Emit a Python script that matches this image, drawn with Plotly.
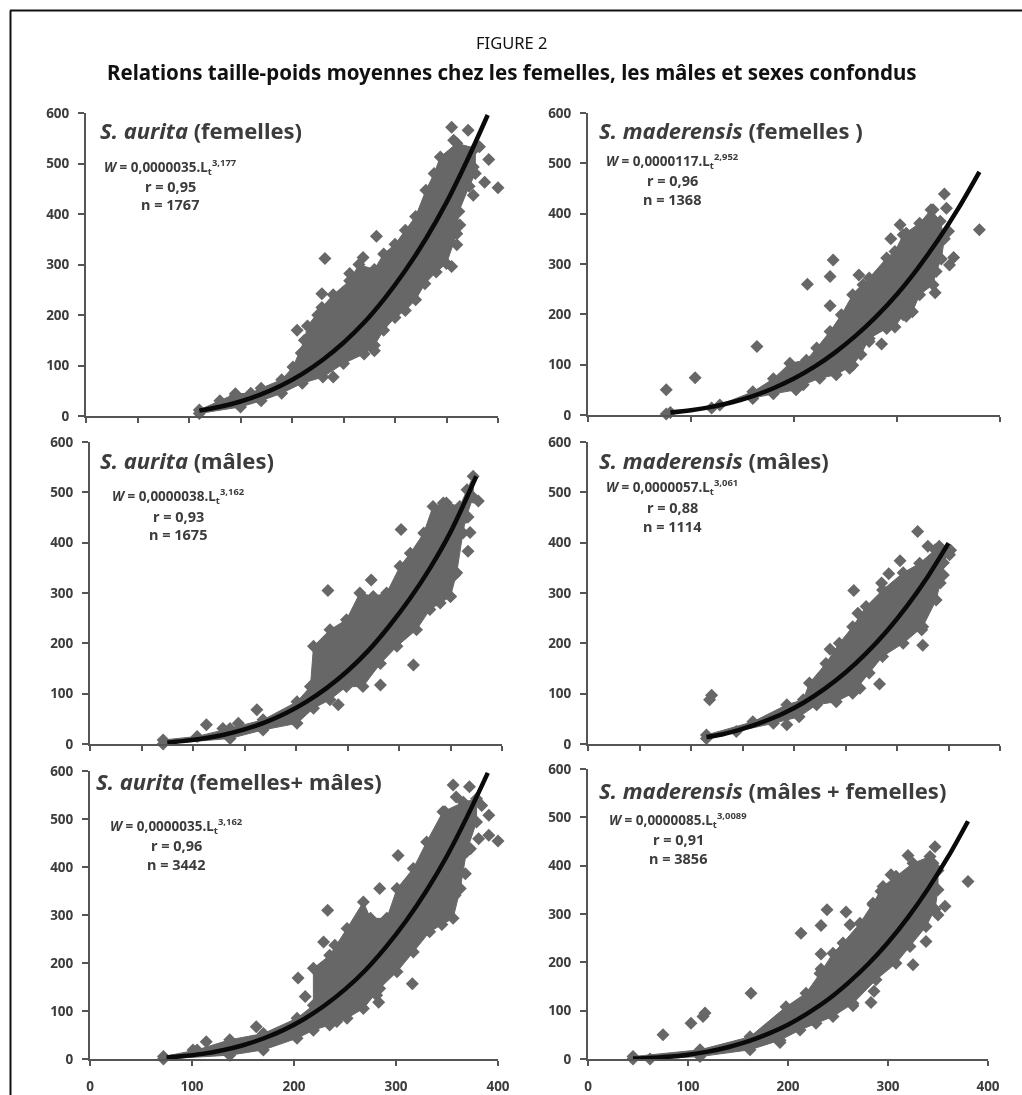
import plotly.graph_objects as go

W_PX, H_PX = 1022, 1095

# ---------- S. aurita (femelles) ----------
af_curve_x = [110, 130, 150, 170, 190, 210, 230, 250, 270, 290, 310, 330, 350, 370, 390]
af_curve_y = [10.7, 18.2, 28.7, 42.7, 60.7, 83.4, 111.5, 145, 185, 233, 288, 351, 423, 506, 596]
af_upper_x = [110, 130, 145, 160, 170, 190, 201, 212, 215, 229, 240, 256, 265, 280, 289, 300, 310, 320, 330, 338, 344, 360, 378]
af_upper_y = [12, 30, 44, 45, 55, 72, 97, 150, 178, 215, 240, 268, 300, 290, 321, 340, 368, 395, 447, 480, 513, 540, 530]
af_lower_x = [378, 372, 362, 360, 350, 340, 329, 320, 310, 300, 289, 280, 270, 250, 230, 210, 190, 170, 150, 110]
af_lower_y = [480, 455, 405, 361, 302, 285, 262, 230, 209, 195, 170, 140, 123, 104, 77, 65, 45, 30, 18, 5]
af_out_x = [355, 371, 391, 400, 376, 387, 282, 232, 269, 229, 205, 209, 280, 240, 355, 360, 363, 145, 382, 357, 376, 240, 256, 225]
af_out_y = [572, 566, 508, 452, 437, 463, 356, 312, 314, 242, 170, 125, 129, 77, 296, 339, 378, 41, 533, 546, 493, 225, 282, 200]

# ---------- S. maderensis (femelles) ----------
mf_curve_x = [80, 100, 120, 140, 160, 180, 200, 220, 240, 260, 280, 300, 320, 340, 360, 380]
mf_curve_y = [4.9, 9.4, 16.1, 25.3, 37.6, 53.2, 72.5, 96, 124.5, 157.6, 196, 240, 291, 348, 412, 483]
mf_upper_x = [80, 120, 160, 180, 196, 212, 222, 235, 246, 257, 265, 273, 290, 298, 306, 322, 333, 342]
mf_upper_y = [5, 14, 46, 72, 103, 109, 133, 166, 199, 239, 245, 272, 312, 325, 358, 381, 408, 385]
mf_lower_x = [346, 343, 338, 335, 322, 315, 306, 298, 290, 273, 265, 257, 241, 225, 209, 202, 180, 160, 128, 76]
mf_lower_y = [350, 310, 285, 259, 239, 205, 199, 175, 172, 152, 120, 99, 80, 73, 60, 50, 42, 33, 20, 2]
mf_out_x = [76, 104, 164, 213, 235, 238, 235, 263, 267, 285, 273, 294, 303, 309, 346, 348, 335, 337, 351, 355, 380, 350, 309, 254]
mf_out_y = [50, 74, 136, 260, 275, 308, 217, 278, 259, 141, 146, 350, 378, 361, 439, 411, 408, 243, 298, 313, 368, 365, 196, 93]

# ---------- S. aurita (mâles) ----------
am_curve_x = [75, 90, 110, 130, 150, 170, 190, 210, 230, 250, 270, 290, 310, 330, 350, 375]
am_curve_y = [3.2, 5.7, 10.8, 18.4, 28.9, 43, 61, 83.7, 111.6, 145, 185, 233, 287, 349, 421, 532]
am_upper_x = [71, 104, 136, 168, 201, 214, 217, 233, 249, 262, 275, 288, 301, 311, 324, 333, 346, 359, 372]
am_upper_y = [8, 15, 31, 48, 84, 114, 194, 227, 247, 300, 293, 300, 353, 379, 419, 472, 479, 472, 532]
am_lower_x = [372, 365, 362, 356, 350, 340, 330, 317, 298, 282, 265, 249, 233, 217, 201, 168, 136, 71]
am_lower_y = [490, 450, 419, 340, 293, 280, 267, 227, 194, 160, 114, 114, 88, 71, 41, 28, 11, 0]
am_out_x = [231, 273, 302, 314, 282, 241, 162, 113, 129, 144, 377, 367, 369, 367, 354, 350, 366, 343]
am_out_y = [305, 326, 426, 157, 117, 78, 68, 38, 31, 41, 483, 451, 420, 383, 336, 293, 505, 479]

# ---------- S. maderensis (mâles) ----------
mm_curve_x = [115, 130, 150, 170, 190, 210, 230, 250, 270, 290, 310, 330, 350]
mm_curve_y = [14, 19, 30, 44, 61, 83, 110, 142, 180, 224, 275, 333, 399]
mm_upper_x = [115, 160, 193, 209, 215, 231, 244, 257, 270, 286, 306, 322, 341, 352]
mm_upper_y = [18, 44, 78, 88, 121, 160, 200, 233, 273, 306, 340, 359, 393, 385]
mm_lower_x = [345, 342, 338, 325, 306, 286, 273, 257, 241, 222, 205, 180, 144, 115]
mm_lower_y = [360, 320, 286, 233, 200, 174, 141, 101, 84, 78, 54, 41, 25, 11]
mm_out_x = [120, 118, 193, 235, 258, 283, 264, 292, 303, 285, 320, 330, 337, 351, 345, 325, 324, 262]
mm_out_y = [97, 88, 38, 188, 305, 119, 111, 338, 364, 320, 422, 393, 386, 376, 336, 196, 227, 260]

# ---------- S. aurita (femelles+ mâles) ----------
ab_curve_x = [75, 90, 110, 130, 150, 170, 190, 210, 230, 250, 270, 290, 310, 330, 350, 370, 390]
ab_curve_y = [3.2, 5.7, 10.7, 18.2, 28.7, 42.7, 60.7, 83.4, 111.5, 145, 185, 233, 288, 351, 423, 506, 596]
ab_upper_x = [72, 105, 137, 170, 203, 219, 219, 235, 252, 268, 275, 291, 301, 317, 330, 346, 366, 379]
ab_upper_y = [5, 19, 40, 53, 85, 112, 189, 216, 272, 327, 293, 293, 355, 397, 452, 515, 535, 542]
ab_lower_x = [379, 369, 363, 356, 345, 333, 317, 301, 284, 268, 252, 235, 219, 203, 170, 137, 72]
ab_lower_y = [494, 431, 355, 293, 280, 265, 223, 182, 147, 105, 85, 71, 60, 43, 19, 8, 0]
ab_out_x = [356, 372, 359, 391, 400, 391, 381, 373, 368, 358, 302, 284, 233, 229, 240, 204, 211, 316, 281, 283, 242, 163, 114, 101, 348, 384]
ab_out_y = [571, 567, 546, 508, 454, 466, 459, 438, 386, 341, 424, 355, 310, 244, 237, 169, 130, 157, 133, 118, 78, 67, 36, 19, 515, 528]

# ---------- S. maderensis (mâles + femelles) ----------
mb_curve_x = [45, 60, 80, 100, 120, 140, 160, 180, 200, 220, 240, 260, 280, 300, 320, 340, 360, 380]
mb_curve_y = [0.8, 1.9, 4.5, 8.9, 15.3, 24.4, 36.4, 51.9, 71, 95, 123, 157, 196, 241, 293, 352, 418, 492]
mb_upper_x = [45, 112, 162, 198, 218, 232, 245, 255, 272, 285, 295, 308, 325, 342, 350]
mb_upper_y = [5, 19, 46, 108, 136, 177, 219, 240, 281, 322, 357, 378, 405, 419, 390]
mb_lower_x = [350, 347, 338, 322, 308, 288, 265, 245, 228, 212, 192, 162, 112, 62]
mb_lower_y = [350, 310, 274, 233, 198, 164, 115, 88, 74, 60, 39, 19, 5, 0]
mb_out_x = [45, 75, 103, 117, 115, 163, 213, 233, 239, 258, 262, 233, 233, 265, 283, 286, 325, 338, 350, 357, 380, 320, 303, 347, 345, 285, 293, 192]
mb_out_y = [0, 50, 74, 95, 88, 136, 260, 276, 309, 304, 278, 217, 186, 110, 117, 140, 195, 243, 298, 316, 367, 421, 381, 439, 405, 319, 347, 34]

# ---------- axis ticks ----------
x_ticks_50 = [0, 50, 100, 150, 200, 250, 300, 350, 400]
x_ticks_100 = [0, 100, 200, 300, 400]
y_ticks = [0, 100, 200, 300, 400, 500, 600]

# ---------- panel texts ----------
panel_sp = ["S. aurita", "S. maderensis", "S. aurita", "S. maderensis", "S. aurita", "S. maderensis"]
panel_sex = [" (femelles)", " (femelles )", " (mâles)", " (mâles)", " (femelles+ mâles)", " (mâles + femelles)"]
panel_coef = ["0,0000035", "0,0000117", "0,0000038", "0,0000057", "0,0000035", "0,0000085"]
panel_exp = ["3,177", "2,952", "3,162", "3,061", "3,162", "3,0089"]
panel_r = ["r = 0,95", "r = 0,96", "r = 0,93", "r = 0,88", "r = 0,96", "r = 0,91"]
panel_n = ["n = 1767", "n = 1368", "n = 1675", "n = 1114", "n = 3442", "n = 3856"]

# pixel layout: x at 0, x at 400, y at 600, y at 0
boxes = [(86, 498, 113, 416), (588, 1000, 113, 415),
         (90, 502, 442, 744), (588, 1000, 442, 744),
         (90, 498, 771, 1059), (588, 988, 769, 1059)]
title_pos = [(98, 130), (597, 130), (98, 460), (597, 460), (94, 781), (597, 790)]
text_pos = [(170, 167, 186, 204), (672, 161, 180, 199), (178, 496, 516, 534),
            (672, 487, 507, 526), (176, 826, 845, 864), (678, 820, 839, 858)]
panel_ticks = [x_ticks_50, x_ticks_100, x_ticks_50, x_ticks_50, x_ticks_100, x_ticks_100]

data = [
    (af_curve_x, af_curve_y, af_upper_x, af_upper_y, af_lower_x, af_lower_y, af_out_x, af_out_y),
    (mf_curve_x, mf_curve_y, mf_upper_x, mf_upper_y, mf_lower_x, mf_lower_y, mf_out_x, mf_out_y),
    (am_curve_x, am_curve_y, am_upper_x, am_upper_y, am_lower_x, am_lower_y, am_out_x, am_out_y),
    (mm_curve_x, mm_curve_y, mm_upper_x, mm_upper_y, mm_lower_x, mm_lower_y, mm_out_x, mm_out_y),
    (ab_curve_x, ab_curve_y, ab_upper_x, ab_upper_y, ab_lower_x, ab_lower_y, ab_out_x, ab_out_y),
    (mb_curve_x, mb_curve_y, mb_upper_x, mb_upper_y, mb_lower_x, mb_lower_y, mb_out_x, mb_out_y),
]

FONT = "Noto Sans, Open Sans, sans-serif"
GREY = "#676767"
TXT = "#3c3c3c"


def px(x):
    return x / W_PX


def py(y):
    return 1 - y / H_PX


fig = go.Figure()
annotations = []
for i, (box, d) in enumerate(zip(boxes, data)):
    k = "" if i == 0 else str(i + 1)
    cx, cy, ux, uy, lx, ly, ox, oy = d
    xa, ya = f"x{k}", f"y{k}"
    marker = dict(symbol="diamond", size=10, color=GREY, line=dict(width=0))
    fig.add_trace(go.Scatter(x=ux + lx, y=uy + ly, mode="lines+markers", fill="toself",
                             fillcolor=GREY, line=dict(color=GREY, width=1), marker=marker,
                             xaxis=xa, yaxis=ya, cliponaxis=False, showlegend=False))
    fig.add_trace(go.Scatter(x=ox, y=oy, mode="markers", marker=marker,
                             xaxis=xa, yaxis=ya, cliponaxis=False, showlegend=False))
    fig.add_trace(go.Scatter(x=cx, y=cy, mode="lines", line=dict(color="#0a0a0a", width=4.5, shape="spline"),
                             xaxis=xa, yaxis=ya, cliponaxis=False, showlegend=False))
    bottom = i >= 4
    fig.update_layout({
        f"xaxis{k}": dict(domain=[px(box[0]), px(box[1])], range=[0, 400], anchor=f"y{k}",
                          tickmode="array", tickvals=panel_ticks[i], showticklabels=bottom,
                          ticks="outside", ticklen=5, tickwidth=1.5, tickcolor="#555555", showgrid=False, zeroline=False,
                          showline=True, linecolor="#555555", linewidth=2, ticklabelstandoff=9,
                          tickfont=dict(family=FONT, size=13.5, color=TXT, weight=700)),
        f"yaxis{k}": dict(domain=[py(box[3]), py(box[2])], range=[0, 600], anchor=f"x{k}",
                          tickmode="array", tickvals=y_ticks, ticks="outside", ticklen=6, tickwidth=1.5,
                          tickcolor="#555555", showgrid=False, zeroline=False,
                          showline=True, linecolor="#555555", linewidth=2, ticklabelstandoff=6,
                          tickfont=dict(family=FONT, size=13.5, color=TXT, weight=700)),
    })
    tx, ty = title_pos[i]
    annotations.append(dict(x=px(tx), y=py(ty), xref="paper", yref="paper", xanchor="left", yanchor="middle",
                            showarrow=False, font=dict(family=FONT, size=22, color=TXT),
                            text=f"<b><i>{panel_sp[i]}</i>{panel_sex[i]}</b>"))
    lx_, y1, y2, y3 = text_pos[i]
    for yy, s, fs in [(y1, f"<i>W</i> = {panel_coef[i]}.L<sub>t</sub><sup>{panel_exp[i]}</sup>", 13.5),
                      (y2, panel_r[i], 14.5), (y3, panel_n[i], 14.5)]:
        annotations.append(dict(x=px(lx_), y=py(yy), xref="paper", yref="paper", xanchor="center", yanchor="middle",
                                showarrow=False, font=dict(family=FONT, size=fs, color=TXT, weight=700), text=s))

annotations.append(dict(x=px(511), y=py(43), xref="paper", yref="paper", showarrow=False, xanchor="center", yanchor="middle",
                        font=dict(family=FONT, size=16.5, color="#111111"), text="FIGURE 2"))
annotations.append(dict(x=px(512), y=py(72), xref="paper", yref="paper", showarrow=False, xanchor="center", yanchor="middle",
                        font=dict(family=FONT, size=20.5, color="#111111", weight=700),
                        text="Relations taille-poids moyennes chez les femelles, les mâles et sexes confondus"))

fig.update_layout(
    width=W_PX, height=H_PX, margin=dict(l=0, r=0, t=0, b=0, autoexpand=False), autosize=False,
    paper_bgcolor="white", plot_bgcolor="white", showlegend=False, annotations=annotations,
    shapes=[
        dict(type="line", xref="paper", yref="paper", x0=px(10), x1=1, y0=py(10.5), y1=py(10.5),
             line=dict(color="#111111", width=2)),
        dict(type="line", xref="paper", yref="paper", x0=px(10.5), x1=px(10.5), y0=0, y1=py(10.5),
             line=dict(color="#111111", width=2)),
    ],
)
fig.write_html(
    "out.html",
    config={"displayModeBar": False},
    post_script="document.body.style.margin='0';document.body.style.overflow='hidden';"
                "document.querySelectorAll('.cartesianlayer').forEach(function(e){e.style.filter='blur(0.7px)';});",
)
